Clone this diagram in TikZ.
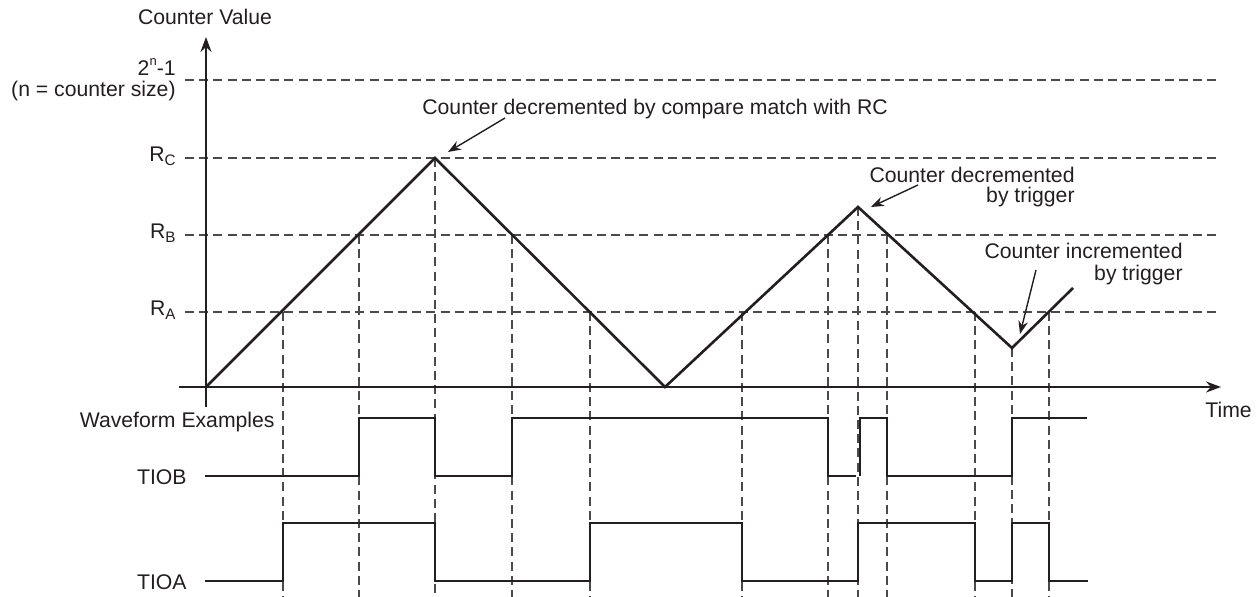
\documentclass[tikz,border=0pt]{standalone}
\usepackage{fontspec}
\setmainfont{Liberation Sans}
\usetikzlibrary{arrows.meta}
\definecolor{ink}{HTML}{231F20}
\definecolor{guidegray}{HTML}{4A4A4A}
\newcommand{\Rsub}[1]{R\raisebox{-0.35ex}{\fontsize{7.6}{8}\selectfont #1}}
\begin{document}
\begin{tikzpicture}[x=0.5pt,y=-0.5pt,
  txt/.style={font=\fontsize{10.6}{12.7}\selectfont, text=ink, inner sep=0pt},
  guide/.style={draw=guidegray, line width=0.65pt, dash pattern=on 4.5pt off 2.6pt},
  wave/.style={draw=ink, line width=1.3pt, line join=miter},
  axis/.style={draw=ink, line width=0.8pt, -{Stealth[length=7.5pt,width=5.5pt]}},
  callout/.style={draw=ink, line width=0.7pt, -{Stealth[length=6.5pt,width=4.8pt]}}]
\useasboundingbox (0,0) rectangle (1259,597);

% horizontal guide lines
\foreach \yy in {80,158,235,312}
  \draw[guide] (185,\yy) -- (1217,\yy);

% vertical guide lines (from crossing point downwards)
\foreach \xx/\yy in {283/312,359/235,435/158,512/235,590/312,742/312,828/235,858/207,887/235,975/312,1012/348,1049/312}
  \draw[guide] (\xx,\yy) -- (\xx,597);

% axes
\coordinate (yb) at (206,407);
\coordinate (yt) at (206,37);
\coordinate (xl) at (179,387);
\coordinate (xr) at (1221,387);
\draw[axis] (yb) -- (yt);
\draw[axis] (xl) -- (xr);

% triangle wave
\coordinate (p0) at (206,387);
\coordinate (p1) at (435,158);
\coordinate (p2) at (665,387);
\coordinate (p3) at (858,207);
\coordinate (p4) at (1012,348);
\coordinate (p5) at (1073,288);
\draw[wave] (p0) -- (p1) -- (p2) -- (p3) -- (p4) -- (p5);

% TIOB
\draw[wave] (205,476) -- (359,476) -- (359,418) -- (435,418) -- (435,476) -- (512,476)
  -- (512,418) -- (828,418) -- (828,476) -- (856,476);
\draw[wave] (860,476) -- (860,418) -- (887,418) -- (887,476) -- (1012,476) -- (1012,418) -- (1087,418);

% TIOA
\draw[wave] (205,581) -- (283,581) -- (283,523) -- (435,523) -- (435,581) -- (590,581)
  -- (590,523) -- (742,523) -- (742,581) -- (858,581) -- (858,523) -- (975,523)
  -- (975,581) -- (1012,581) -- (1012,523) -- (1049,523) -- (1049,581) -- (1088,581);

% labels
\node[txt, anchor=base] (cv) at (205,25) {Counter Value};
\node[txt, anchor=base east] (max) at (176,76) {2\raisebox{0.9ex}{\fontsize{6.5}{7}\selectfont n}-1};
\node[txt, anchor=base east] (csize) at (176,97) {(n = counter size)};
\node[txt, anchor=base east] (rc) at (176,162) {\Rsub{C}};
\node[txt, anchor=base east] (rb) at (176,239) {\Rsub{B}};
\node[txt, anchor=base east] (ra) at (176,316) {\Rsub{A}};
\node[txt, anchor=base west] (time) at (1205,418) {Time};
\node[txt, anchor=base east] (wex) at (275,428) {Waveform Examples};
\node[txt, anchor=base east] (tiob) at (187,485) {TIOB};
\node[txt, anchor=base east] (tioa) at (187,590) {TIOA};

% annotations
\node[txt, anchor=base west] (ann1) at (422,115) {Counter decremented by compare match with RC};
\node[txt, anchor=base east] (ann2a) at (1075,183) {Counter decremented};
\node[txt, anchor=base east] (ann2b) at (1075,203) {by trigger};
\node[txt, anchor=base east] (ann3a) at (1183,259) {Counter incremented};
\node[txt, anchor=base east] (ann3b) at (1183,281) {by trigger};

\coordinate (a1s) at (505,118);
\coordinate (a1t) at (448,152);
\coordinate (a2s) at (918,185);
\coordinate (a2t) at (871,207);
\coordinate (a3s) at (1036,270);
\coordinate (a3t) at (1020,334);
\draw[callout] (a1s) -- (a1t);
\draw[callout] (a2s) -- (a2t);
\draw[callout] (a3s) -- (a3t);
\end{tikzpicture}
\end{document}
